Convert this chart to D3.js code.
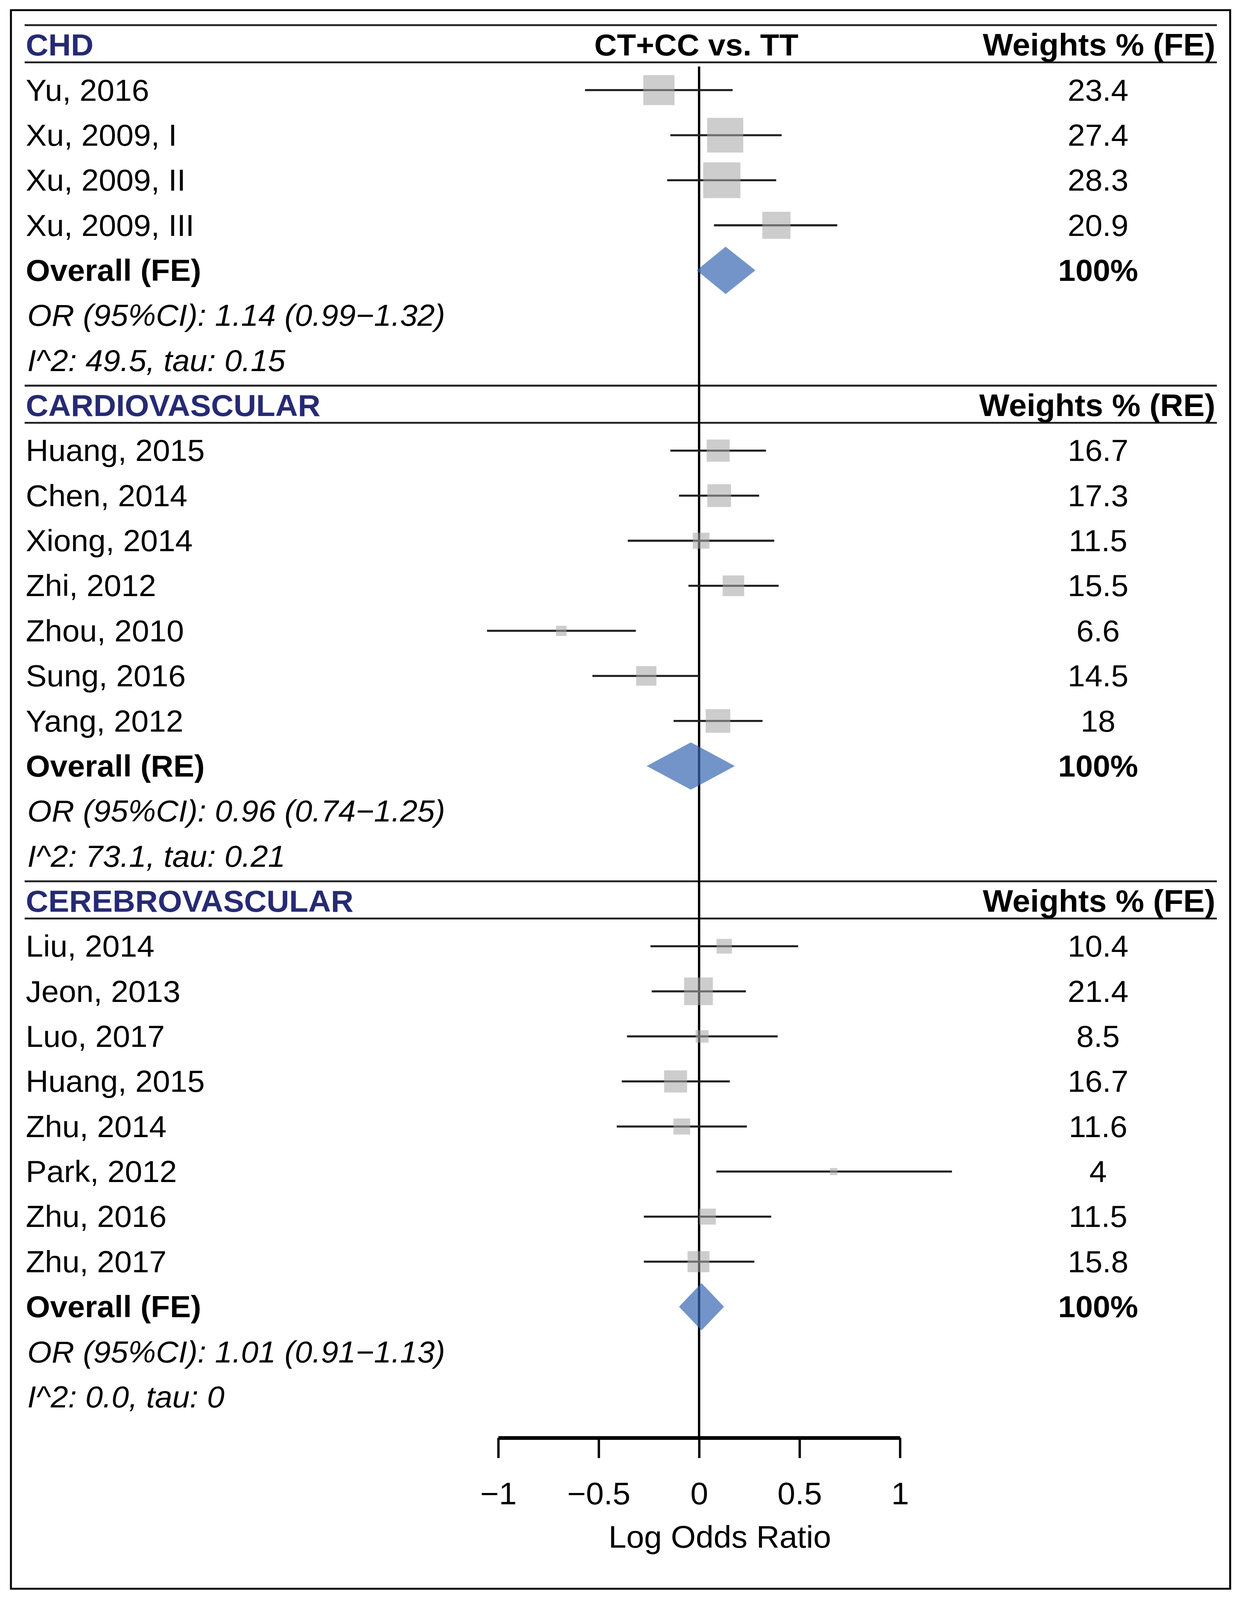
<!DOCTYPE html>
<html>
<head>
<meta charset="utf-8">
<script src="https://cdn.jsdelivr.net/npm/d3@7/dist/d3.min.js"></script>
<style>
    html, body { margin: 0; padding: 0; background: #fff; overflow: hidden; }
    #chart svg { display: block; width: 100vw; height: 100vh; }
    svg text { font-family: "Liberation Sans", Arial, sans-serif; }
</style>
</head>
<body>
<div id="chart"></div>
<script>
// ---- data (log odds ratio) ----
const sectionTitles = ["CHD", "CARDIOVASCULAR", "CEREBROVASCULAR"];
const weightHeaders = ["Weights % (FE)", "Weights % (RE)", "Weights % (FE)"];
const overallLabels = ["Overall (FE)", "Overall (RE)", "Overall (FE)"];
const orTexts = ["OR (95%CI): 1.14 (0.99\u22121.32)", "OR (95%CI): 0.96 (0.74\u22121.25)", "OR (95%CI): 1.01 (0.91\u22121.13)"];
const hetTexts = ["I^2: 49.5, tau: 0.15", "I^2: 73.1, tau: 0.21", "I^2: 0.0, tau: 0"];

const chdStudies = ["Yu, 2016", "Xu, 2009, I", "Xu, 2009, II", "Xu, 2009, III"];
const chdEst = [-0.200, 0.130, 0.113, 0.385];
const chdLow = [-0.568, -0.143, -0.159, 0.074];
const chdHigh = [0.167, 0.411, 0.384, 0.688];
const chdWeights = ["23.4", "27.4", "28.3", "20.9"];

const cardioStudies = ["Huang, 2015", "Chen, 2014", "Xiong, 2014", "Zhi, 2012", "Zhou, 2010", "Sung, 2016", "Yang, 2012"];
const cardioEst = [0.095, 0.100, 0.010, 0.171, -0.686, -0.263, 0.094];
const cardioLow = [-0.143, -0.100, -0.355, -0.053, -1.056, -0.531, -0.127];
const cardioHigh = [0.333, 0.299, 0.374, 0.396, -0.315, 0.0, 0.316];
const cardioWeights = ["16.7", "17.3", "11.5", "15.5", "6.6", "14.5", "18"];

const cerebroStudies = ["Liu, 2014", "Jeon, 2013", "Luo, 2017", "Huang, 2015", "Zhu, 2014", "Park, 2012", "Zhu, 2016", "Zhu, 2017"];
const cerebroEst = [0.125, -0.003, 0.015, -0.117, -0.086, 0.670, 0.042, -0.003];
const cerebroLow = [-0.242, -0.236, -0.359, -0.385, -0.410, 0.086, -0.275, -0.275];
const cerebroHigh = [0.493, 0.233, 0.391, 0.153, 0.238, 1.259, 0.359, 0.275];
const cerebroWeights = ["10.4", "21.4", "8.5", "16.7", "11.6", "4", "11.5", "15.8"];

// overall diamonds: [lower, estimate, upper]
const overallDiamonds = [[-0.012, 0.132, 0.280], [-0.261, -0.041, 0.178], [-0.100, 0.012, 0.124]];

const tickValues = [-1, -0.5, 0, 0.5, 1];
const axisTitle = "Log Odds Ratio";
const effectHeader = "CT+CC vs. TT";

// ---- layout ----
const W = 3186, H = 4261;
const navy = "#262a74";
const fs = 80;

const studies = [chdStudies, cardioStudies, cerebroStudies];
const ests = [chdEst, cardioEst, cerebroEst];
const lows = [chdLow, cardioLow, cerebroLow];
const highs = [chdHigh, cardioHigh, cerebroHigh];
const weights = [chdWeights, cardioWeights, cerebroWeights];

const x = d3.scaleLinear().domain([-1, 1]).range([1275, 2303]);
const y = d3.scaleLinear().domain([0, 1]).range([120, 240]);     // row index -> centre
const boxSize = d3.scaleLinear().domain([0, 30]).range([6.4, 100.6]);

// build the row list
const rows = [];
let r = 0;
studies.forEach((names, s) => {
    rows.push({ kind: "header", s: s, row: r++ });
    names.forEach((n, i) => {
        rows.push({ kind: "study", s: s, row: r++, name: n, est: ests[s][i], lo: lows[s][i], hi: highs[s][i], w: weights[s][i] });
    });
    rows.push({ kind: "overall", s: s, row: r++ });
    rows.push({ kind: "or", s: s, row: r++ });
    rows.push({ kind: "het", s: s, row: r++ });
});
const axisRow = r;

// svg fills the window, so nothing gets cropped if the viewport is a bit short
const svg = d3.select("#chart").append("svg")
    .attr("viewBox", "0 0 " + W + " " + H)
    .attr("preserveAspectRatio", "none");

svg.append("rect").attr("width", W).attr("height", H).attr("fill", "#fff");

// outer frame
svg.append("rect")
    .attr("x", 28).attr("y", 27)
    .attr("width", 3120).attr("height", 4204)
    .attr("fill", "none").attr("stroke", "#000").attr("stroke-width", 5);

const headers = rows.filter(d => d.kind === "header");

// section rules
const rules = [];
headers.forEach(h => {
    rules.push(y(h.row) - 53);
    rules.push(y(h.row) + 46);
});
svg.selectAll(".rule")
    .data(rules)
    .enter().append("line")
    .attr("class", "rule")
    .attr("x1", 63).attr("x2", 3114)
    .attr("y1", d => d).attr("y2", d => d)
    .attr("stroke", "#222").attr("stroke-width", 5);

const axisY = y(axisRow) - 11;

// zero line
svg.append("line")
    .attr("x1", x(0)).attr("x2", x(0))
    .attr("y1", y(0) + 57).attr("y2", axisY)
    .attr("stroke", "#000").attr("stroke-width", 6);

const studyRows = rows.filter(d => d.kind === "study");

// CI lines
svg.selectAll(".ci")
    .data(studyRows)
    .enter().append("line")
    .attr("class", "ci")
    .attr("x1", d => x(d.lo)).attr("x2", d => x(d.hi))
    .attr("y1", d => y(d.row)).attr("y2", d => y(d.row))
    .attr("stroke", "#222").attr("stroke-width", 5.5);

// weight boxes
svg.selectAll(".box")
    .data(studyRows)
    .enter().append("rect")
    .attr("class", "box")
    .attr("x", d => x(d.est) - boxSize(+d.w) / 2)
    .attr("y", d => y(d.row) - boxSize(+d.w) / 2)
    .attr("width", d => boxSize(+d.w))
    .attr("height", d => boxSize(+d.w))
    .attr("fill", "#a7a7a7").attr("fill-opacity", 0.57);

// overall diamonds
const overallRows = rows.filter(d => d.kind === "overall");
svg.selectAll(".diamond")
    .data(overallRows)
    .enter().append("path")
    .attr("class", "diamond")
    .attr("d", d => {
        const v = overallDiamonds[d.s], cy = y(d.row), hh = 63;
        return "M" + x(v[0]) + "," + cy + "L" + x(v[1]) + "," + (cy - hh) +
            "L" + x(v[2]) + "," + cy + "L" + x(v[1]) + "," + (cy + hh) + "Z";
    })
    .attr("fill", "rgb(55,102,176)").attr("fill-opacity", 0.7);

// left column labels
const txt = svg.append("g");
txt.selectAll(".lab")
    .data(rows)
    .enter().append("text")
    .attr("class", "lab")
    .attr("x", d => d.kind === "or" || d.kind === "het" ? 70 : 66)
    .attr("y", d => y(d.row) + 28)
    .attr("font-size", fs)
    .attr("font-weight", d => d.kind === "header" || d.kind === "overall" ? "bold" : "normal")
    .attr("font-style", d => d.kind === "or" || d.kind === "het" ? "italic" : "normal")
    .attr("fill", d => d.kind === "header" ? navy : "#000")
    .text(d => {
        if (d.kind === "header") return sectionTitles[d.s];
        if (d.kind === "study") return d.name;
        if (d.kind === "overall") return overallLabels[d.s];
        if (d.kind === "or") return orTexts[d.s];
        return hetTexts[d.s];
    });

// weights column
txt.selectAll(".wt")
    .data(rows.filter(d => d.kind === "study" || d.kind === "overall"))
    .enter().append("text")
    .attr("class", "wt")
    .attr("x", 2810)
    .attr("y", d => y(d.row) + 28)
    .attr("text-anchor", "middle")
    .attr("font-size", fs)
    .attr("font-weight", d => d.kind === "overall" ? "bold" : "normal")
    .text(d => d.kind === "overall" ? "100%" : d.w);

txt.selectAll(".wh")
    .data(headers)
    .enter().append("text")
    .attr("class", "wh")
    .attr("x", 3110)
    .attr("y", d => y(d.row) + 28)
    .attr("text-anchor", "end")
    .attr("font-size", 82)
    .attr("font-weight", "bold")
    .text(d => weightHeaders[d.s]);

txt.append("text")
    .attr("x", 1782)
    .attr("y", y(0) + 28)
    .attr("text-anchor", "middle")
    .attr("font-size", fs)
    .attr("font-weight", "bold")
    .text(effectHeader);

// x axis
const axis = d3.axisBottom(x)
    .tickValues(tickValues)
    .tickSize(54)
    .tickSizeOuter(0)
    .tickPadding(65)
    .tickFormat(d3.format(""));

const ax = svg.append("g")
    .attr("transform", "translate(0," + axisY + ")")
    .call(axis);
ax.select(".domain").attr("stroke", "#000").attr("stroke-width", 10);
ax.selectAll(".tick line").attr("stroke", "#000").attr("stroke-width", 6);
ax.selectAll(".tick text")
    .attr("fill", "#000")
    .attr("font-size", 82)
    .attr("font-family", "'Liberation Sans', Arial, sans-serif");

svg.append("text")
    .attr("x", 1842)
    .attr("y", 4122)
    .attr("text-anchor", "middle")
    .attr("font-size", 82)
    .text(axisTitle);
</script>
</body>
</html>
